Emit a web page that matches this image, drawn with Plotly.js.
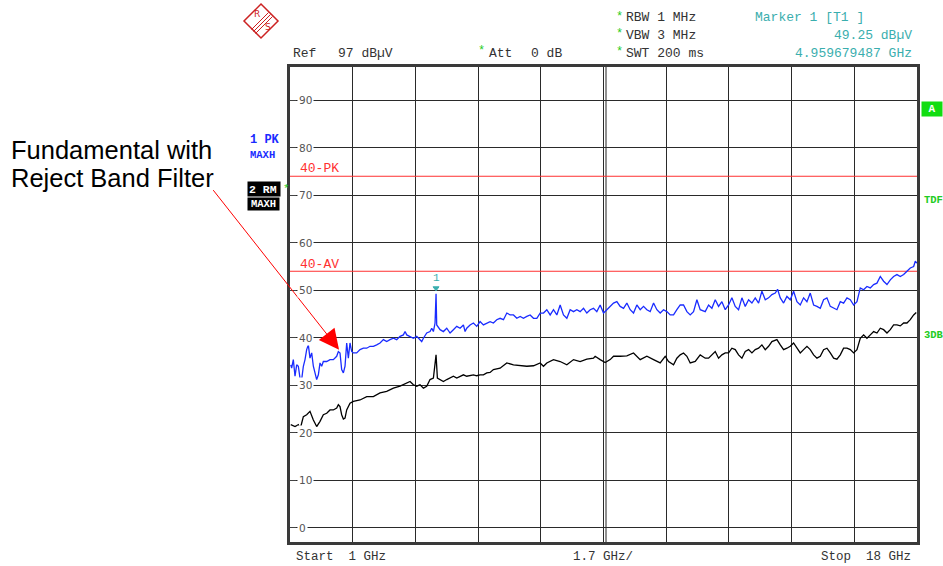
<!DOCTYPE html>
<html><head><meta charset="utf-8">
<script src="https://cdn.plot.ly/plotly-3.0.1.min.js"></script>
<style>html,body{margin:0;padding:0;background:#fff;} #chart{width:943px;height:566px;}</style>
</head><body><div id="chart"></div>
<script>
// ---------- data (GHz, dBuV) ----------
const blueFreq = [
 1.02,1.045,1.09,1.136,1.181,1.226,1.271,1.316,1.362,1.407,
 1.452,1.497,1.542,1.588,1.633,1.678,1.723,1.769,1.814,1.859,
 1.904,1.995,2.085,2.175,2.266,2.311,2.356,2.401,2.447,2.492,
 2.537,2.582,2.627,2.673,2.718,2.808,2.899,2.989,3.080,3.170,
 3.260,3.351,3.441,3.532,3.622,3.712,3.803,3.893,3.984,4.074,
 4.119,4.165,4.255,4.345,4.436,4.526,4.571,4.617,4.707,4.797,
 4.843,4.888,4.933,4.960,4.978,5.069,5.159,5.250,5.340,5.430,
 5.521,5.611,5.702,5.747,5.792,5.882,5.973,6.063,6.154,6.244,
 6.335,6.425,6.515,6.606,6.696,6.788,6.878,6.969,7.059,7.150,
 7.240,7.330,7.421,7.511,7.602,7.692,7.782,7.873,7.963,8.054,
 8.144,8.235,8.325,8.415,8.506,8.596,8.687,8.777,8.867,8.958,
 9.048,9.139,9.229,9.319,9.410,9.500,9.591,9.681,9.772,9.862,
 9.952,10.043,10.133,10.224,10.314,10.404,10.495,10.585,10.676,10.766,
 10.857,10.947,11.037,11.128,11.218,11.309,11.399,11.489,11.580,11.670,
 11.761,11.851,11.941,12.032,12.122,12.258,12.349,12.439,12.529,12.620,
 12.710,12.801,12.891,12.981,13.072,13.162,13.253,13.343,13.434,13.524,
 13.614,13.705,13.795,13.886,13.976,14.066,14.157,14.220,14.293,14.383,
 14.473,14.564,14.654,14.745,14.835,14.925,15.016,15.106,15.197,15.287,
 15.377,15.468,15.558,15.649,15.739,15.829,15.920,16.010,16.101,16.191,
 16.282,16.372,16.462,16.553,16.643,16.734,16.824,16.914,17.005,17.095,
 17.186,17.276,17.366,17.457,17.547,17.638,17.728,17.818,17.909,17.954,
 18.0
];
const blueLevel = [
 34.3,33.6,35.4,31.9,34.3,34.0,31.5,31.2,34.0,35.4,
 37.5,38.5,35.7,36.8,34.0,32.2,31.2,32.2,34.7,34.0,
 35.0,35.0,35.4,35.4,36.1,37.1,36.8,33.3,32.6,34.0,
 38.9,35.7,38.9,37.1,36.8,36.8,37.5,37.8,37.8,38.2,
 38.2,38.5,38.9,39.6,39.2,39.6,39.9,39.6,40.3,40.6,
 41.3,40.6,40.3,39.9,40.3,39.6,39.2,39.9,41.0,41.3,
 42.0,41.3,43.1,49.25,42.7,41.7,41.3,42.0,41.0,41.7,
 42.4,42.0,42.7,41.3,42.0,42.7,43.1,42.4,43.4,42.7,
 43.1,43.4,43.1,43.8,44.1,43.8,45.2,44.8,44.8,44.1,
 44.5,44.1,44.5,44.8,44.1,44.1,45.2,45.2,45.9,44.8,
 45.9,44.8,46.9,44.8,44.1,45.9,45.5,45.9,45.5,46.2,
 45.2,45.9,46.2,45.5,46.9,45.2,45.9,46.6,47.3,47.6,
 46.6,46.2,47.3,45.9,45.2,46.9,45.9,46.6,45.9,45.5,
 47.3,45.9,45.2,45.9,45.5,44.8,44.8,45.9,46.9,46.9,
 45.5,44.8,45.5,48.0,45.9,45.5,46.9,46.2,48.0,46.6,
 47.6,45.9,46.9,48.4,46.6,45.9,48.4,46.6,48.0,47.3,
 48.4,47.3,49.8,48.0,48.4,49.1,49.4,50.2,48.4,47.3,
 48.7,48.0,49.8,47.6,46.9,48.4,47.6,49.4,46.9,46.6,
 46.2,48.0,48.4,46.6,46.2,45.9,47.6,47.3,48.4,48.0,
 46.9,47.6,50.5,50.1,50.8,50.5,51.2,51.5,52.9,51.9,
 51.2,52.2,52.9,53.3,52.9,53.3,54.0,54.7,55.0,56.1,
 55.7
];
const blackFreq = [
 1.02,1.136,1.226,1.271,1.316,1.362,1.452,1.542,1.633,
 1.723,1.814,1.904,1.995,2.085,2.175,2.266,2.311,2.356,2.401,
 2.447,2.492,2.537,2.627,2.718,2.899,3.080,3.260,3.441,3.622,
 3.803,3.984,4.165,4.255,4.345,4.436,4.526,4.617,4.707,4.797,
 4.888,4.960,4.996,5.069,5.159,5.250,5.340,5.430,5.521,
 5.611,5.702,5.792,5.882,5.973,6.063,6.154,6.244,6.335,6.425,
 6.515,6.696,6.878,7.059,7.240,7.421,7.602,7.782,7.873,7.963,
 8.144,8.325,8.506,8.687,8.867,9.048,9.229,9.274,9.410,9.545,
 9.681,9.772,9.952,10.133,10.314,10.404,10.495,10.676,10.766,10.857,
 11.037,11.173,11.264,11.399,11.489,11.580,11.670,11.761,11.851,11.987,
 12.122,12.258,12.349,12.439,12.529,12.620,12.710,12.801,12.891,12.981,
 13.072,13.162,13.253,13.343,13.434,13.524,13.614,13.705,13.795,13.886,
 13.976,14.066,14.202,14.293,14.383,14.473,14.564,14.654,14.745,14.835,
 14.925,15.016,15.106,15.197,15.287,15.377,15.468,15.558,15.649,15.739,
 15.829,15.920,16.010,16.101,16.191,16.282,16.372,16.462,16.553,16.643,
 16.734,16.824,16.914,17.005,17.095,17.186,17.276,17.366,17.457,17.547,
 17.638,17.728,17.818,17.909,17.98
];
const blackLevel = [
 21.7,21.3,21.7,20.6,22.0,23.4,23.8,24.5,22.7,
 21.3,22.4,23.8,24.1,24.8,24.8,25.2,25.9,25.5,23.8,
 22.9,23.1,24.8,26.2,26.6,26.9,27.6,27.6,28.4,28.7,
 29.4,29.8,30.5,30.8,30.1,29.8,30.1,29.4,29.8,31.2,
 31.5,36.4,31.5,31.2,30.8,31.2,31.5,31.9,31.5,
 31.9,32.2,31.9,32.0,32.2,32.0,32.2,32.2,32.6,32.7,
 33.3,33.6,34.7,34.3,34.1,34.0,34.1,34.7,34.0,34.7,
 35.4,35.0,34.3,35.4,35.0,35.5,35.7,36.1,35.4,34.8,
 35.4,36.1,36.1,36.2,36.8,36.1,35.4,36.1,35.7,35.4,
 34.7,36.1,35.0,34.3,35.7,36.4,36.8,36.1,34.7,35.0,
 36.4,35.7,35.7,36.4,37.1,35.7,36.4,36.8,36.8,37.8,
 37.5,36.4,35.7,37.1,37.5,36.8,37.5,37.8,38.5,37.5,
 38.2,39.2,39.6,38.5,37.5,37.8,38.2,38.9,37.8,36.8,
 37.5,38.2,37.5,36.4,35.7,36.1,37.5,37.8,36.8,35.7,
 35.5,36.4,37.8,37.8,37.5,36.8,37.5,39.9,40.6,39.9,
 40.6,41.3,41.0,42.0,41.7,41.0,41.7,42.7,42.7,42.5,
 43.1,43.1,43.8,44.8,45.3
];
const freqRange = [1, 18];
const freqStep = 1.7;
const levelRange = [-3, 97];
const levelTicks = [0, 10, 20, 30, 40, 50, 60, 70, 80, 90];
const limitPK = 74;
const limitAV = 54;
const markerFreq = 4.959679487;
const markerLevel = 49.25;
const arrowTarget = [2.33, 37.5];

// ---------- layout helpers ----------
const W = 943, H = 566, ML = 290, MR = 26, MT = 67, MB = 24;
const PW = W - ML - MR, PH = H - MT - MB;
const P = x => (x - ML) / PW;
const Q = y => (H - MB - y) / PH;
const MONO = 'Liberation Mono, Courier New, monospace';
const GRAY = '#333333';
const TEAL = '#3aaeae';
const GREEN = '#22cc22';
const BLUE = '#1a2cff';
const RED = '#ff3030';

function txt(x, y, text, o) {
  o = o || {};
  return Object.assign({
    xref: 'paper', yref: 'paper', x: P(x), y: Q(y), text: text,
    showarrow: false, xanchor: 'left', yanchor: 'middle',
    font: {family: MONO, size: 13, color: GRAY}
  }, o);
}

const annotations = [
  txt(291, 53, 'Ref'),
  txt(336, 53, '97 dB\u00b5V'),
  txt(476, 51, '*', {font: {family: MONO, size: 12, color: GREEN}}),
  txt(487, 53, 'Att'),
  txt(529, 53, '0 dB'),
  txt(614, 17, '*', {font: {family: MONO, size: 12, color: GREEN}}),
  txt(614, 34, '*', {font: {family: MONO, size: 12, color: GREEN}}),
  txt(614, 52, '*', {font: {family: MONO, size: 12, color: GREEN}}),
  txt(624, 18, 'RBW 1 MHz'),
  txt(624, 35, 'VBW 3 MHz'),
  txt(624, 53, 'SWT 200 ms'),
  txt(753, 18, 'Marker 1 [T1 ]', {font: {family: MONO, size: 13, color: TEAL}}),
  txt(914, 35, markerLevel.toFixed(2) + ' dB\u00b5V', {xanchor: 'right', font: {family: MONO, size: 13, color: TEAL}}),
  txt(914, 53, markerFreq.toFixed(9) + ' GHz', {xanchor: 'right', font: {family: MONO, size: 13, color: TEAL}}),
  txt(294, 557, 'Start\u00a0\u00a01 GHz', {font: {family: MONO, size: 12.5, color: GRAY}}),
  txt(571, 557, (freqStep).toFixed(1) + ' GHz/', {font: {family: MONO, size: 12.5, color: GRAY}}),
  txt(913, 557, 'Stop\u00a0\u00a018 GHz', {xanchor: 'right', font: {family: MONO, size: 12.5, color: GRAY}}),
  // trace labels
  txt(248, 140, '1 PK', {font: {family: MONO, size: 12, color: BLUE, weight: 'bold'}}),
  txt(248, 155, 'MAXH', {font: {family: MONO, size: 10.5, color: BLUE, weight: 'bold'}}),
  txt(247, 189, '2 RM', {bgcolor: '#000', width: 30, height: 12, borderpad: 1, align: 'left',
    font: {family: MONO, size: 11.5, color: '#fff', weight: 'bold'}}),
  txt(247, 204, 'MAXH', {bgcolor: '#000', width: 31, height: 12, borderpad: 0, align: 'center',
    font: {family: MONO, size: 10.5, color: '#fff', weight: 'bold'}}),
  txt(281, 189, '*', {font: {family: MONO, size: 11, color: GREEN}}),
  // limit labels
  txt(298, 168, '40-PK', {font: {family: MONO, size: 13, color: RED}}),
  txt(298, 264, '40-AV', {font: {family: MONO, size: 13, color: RED}}),
  // right side labels
  txt(921, 109, 'A', {bgcolor: '#11dd11', width: 18, height: 12, borderpad: 1, align: 'center',
    font: {family: MONO, size: 11, color: '#fff', weight: 'bold'}}),
  txt(922, 200, 'TDF', {font: {family: MONO, size: 10.5, color: GREEN, weight: 'bold'}}),
  txt(922, 335, '3DB', {font: {family: MONO, size: 10.5, color: GREEN, weight: 'bold'}}),
  // marker label
  {xref: 'x', yref: 'y', x: markerFreq, y: markerLevel, text: '1', showarrow: false,
   xanchor: 'center', yanchor: 'bottom', yshift: 8, font: {family: MONO, size: 11, color: TEAL}},
  // big note
  txt(9, 150, 'Fundamental with', {font: {family: 'Liberation Sans, Arial, sans-serif', size: 25.5, color: '#000'}}),
  txt(9, 178, 'Reject Band Filter', {font: {family: 'Liberation Sans, Arial, sans-serif', size: 25.5, color: '#000'}}),
  {xref: 'x', yref: 'y', x: arrowTarget[0], y: arrowTarget[1], ax: -127, ay: -161, axref: 'pixel', ayref: 'pixel',
   text: '', showarrow: true, arrowhead: 2, arrowsize: 4, arrowwidth: 1, arrowcolor: '#ff0000', standoff: 0}
];
// y tick labels
levelTicks.forEach(v => {
  annotations.push({xref: 'paper', yref: 'y', x: P(297), y: v, text: String(v), showarrow: false,
    xanchor: 'left', yanchor: 'middle', bgcolor: '#fff', borderpad: 1,
    font: {family: 'DejaVu Sans, sans-serif', size: 10.5, color: '#555'}});
});

// R&S logo shapes
function pth(pts, close) {
  return pts.map((p, i) => (i ? 'L' : 'M') + P(p[0]) + ',' + Q(p[1])).join(' ') + (close ? ' Z' : '');
}
const shapes = [
  {type: 'path', xref: 'paper', yref: 'paper', path: pth([[261, 4], [278, 21], [261, 38], [244, 21]], true),
   line: {color: '#cc2222', width: 1.5}},
  {type: 'path', xref: 'paper', yref: 'paper', path: pth([[251.5, 29.5], [268.5, 12.5]]), line: {color: '#cc2222', width: 1}},
  {type: 'path', xref: 'paper', yref: 'paper', path: pth([[253.5, 31.5], [270.5, 14.5]]), line: {color: '#cc2222', width: 1}},
  {type: 'path', xref: 'paper', yref: 'paper', path: pth([[255.5, 33.5], [272.5, 16.5]]), line: {color: '#cc2222', width: 1}},
  // doubled centre gridline
  {type: 'line', xref: 'x', yref: 'paper', xsizemode: 'pixel', xanchor: (freqRange[0] + freqRange[1]) / 2,
   x0: 2.5, x1: 2.5, y0: 0, y1: 1, line: {color: '#222', width: 1}, layer: 'below'},
  // marker triangle above the marked peak
  {type: 'path', xref: 'x', yref: 'y', xsizemode: 'pixel', ysizemode: 'pixel',
   xanchor: markerFreq, yanchor: markerLevel, path: 'M-3,7 L3,7 L0,3 Z',
   fillcolor: TEAL, line: {color: TEAL, width: 1}}
];
annotations.push(txt(252, 14, 'R', {font: {family: 'DejaVu Sans', size: 9, color: '#cc2222'}}));
annotations.push(txt(263, 27, 'S', {font: {family: 'DejaVu Sans', size: 9, color: '#cc2222'}}));

const traces = [
  {x: freqRange, y: [limitPK, limitPK], mode: 'lines', line: {color: RED, width: 1}, hoverinfo: 'skip'},
  {x: freqRange, y: [limitAV, limitAV], mode: 'lines', line: {color: RED, width: 1}, hoverinfo: 'skip'},
  {x: blackFreq, y: blackLevel, mode: 'lines', line: {color: '#000', width: 1.3}, hoverinfo: 'skip'},
  {x: blueFreq, y: blueLevel, mode: 'lines', line: {color: BLUE, width: 1.3}, hoverinfo: 'skip'}
];

const layout = {
  width: W, height: H,
  margin: {l: ML, r: MR, t: MT, b: MB, pad: 0},
  paper_bgcolor: '#fff', plot_bgcolor: '#fff',
  showlegend: false,
  xaxis: {range: freqRange, tick0: freqRange[0], dtick: freqStep, showticklabels: false, ticks: '',
    showgrid: true, gridcolor: '#2a2a2a', gridwidth: 1, zeroline: false,
    showline: true, mirror: true, linecolor: '#3a3a3a', linewidth: 3},
  yaxis: {range: levelRange, tickvals: levelTicks, showticklabels: false, ticks: 'inside', ticklen: 6, tickcolor: '#444',
    showgrid: true, gridcolor: '#2a2a2a', gridwidth: 1, zeroline: false,
    showline: true, mirror: true, linecolor: '#3a3a3a', linewidth: 3},
  annotations: annotations,
  shapes: shapes
};
Plotly.newPlot('chart', traces, layout, {staticPlot: true, displayModeBar: false});
</script>
</body></html>
